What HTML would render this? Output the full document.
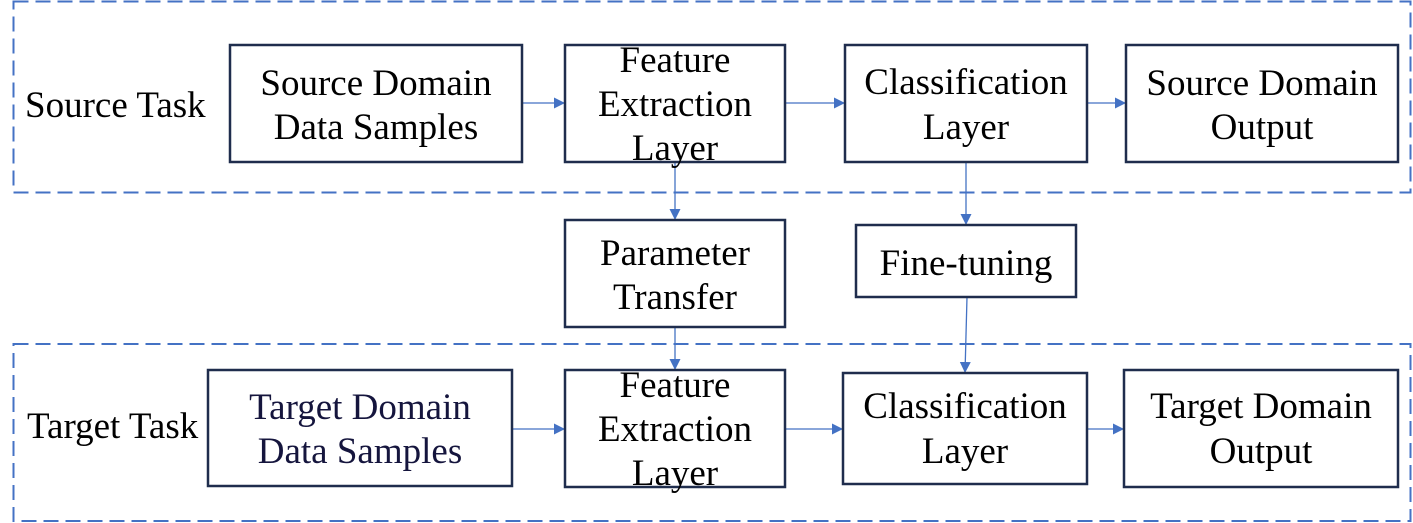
<!DOCTYPE html>
<html>
<head>
<meta charset="utf-8">
<style>
  html, body { margin:0; padding:0; background:#ffffff; }
  body { width:1413px; height:523px; overflow:hidden; }
  svg { display:block; }
  text { font-family: "Liberation Serif", "Times New Roman", serif; font-size:37px; fill:#000; }
</style>
</head>
<body>
<svg width="1413" height="523" viewBox="0 0 1413 523" xmlns="http://www.w3.org/2000/svg">
  <defs>
    <marker id="ah" markerUnits="userSpaceOnUse" markerWidth="12" markerHeight="12" viewBox="0 0 12 12" refX="11" refY="6" orient="auto">
      <path d="M0,0.5 L11,6 L0,11.5 z" fill="#4472c4"/>
    </marker>
  </defs>

  <!-- dashed group boxes -->
  <rect x="13.5" y="1.5" width="1397" height="191" fill="none" stroke="#4472c4" stroke-width="2" stroke-dasharray="15,7"/>
  <rect x="13.5" y="344" width="1397" height="177" fill="none" stroke="#4472c4" stroke-width="2" stroke-dasharray="15,7"/>

  <!-- connectors -->
  <g stroke="#4472c4" stroke-width="1.3" fill="none" marker-end="url(#ah)">
    <line x1="522" y1="103" x2="565" y2="103"/>
    <line x1="785" y1="103" x2="845" y2="103"/>
    <line x1="1087" y1="103" x2="1126" y2="103"/>
    <line x1="675" y1="162" x2="675" y2="220"/>
    <line x1="966" y1="162" x2="966" y2="225"/>
    <line x1="675" y1="327" x2="675" y2="370"/>
    <line x1="967" y1="297" x2="965" y2="373"/>
    <line x1="512" y1="429" x2="565" y2="429"/>
    <line x1="785" y1="429" x2="843" y2="429"/>
    <line x1="1087" y1="429" x2="1124" y2="429"/>
  </g>

  <!-- boxes -->
  <g fill="#ffffff" stroke="#1f2d4d" stroke-width="2.5">
    <rect x="230" y="45" width="292" height="117"/>
    <rect x="565" y="45" width="220" height="117"/>
    <rect x="845" y="45" width="242" height="117"/>
    <rect x="1126" y="45" width="272" height="117"/>
    <rect x="565" y="220" width="220" height="107"/>
    <rect x="856" y="225" width="220" height="72"/>
    <rect x="208" y="370" width="304" height="116"/>
    <rect x="565" y="370" width="220" height="117"/>
    <rect x="843" y="373" width="244" height="111"/>
    <rect x="1124" y="370" width="274" height="117"/>
  </g>

  <!-- side labels -->
  <text x="25" y="117">Source Task</text>
  <text x="27" y="438">Target Task</text>

  <!-- box texts -->
  <g text-anchor="middle">
    <text x="376" y="95">Source Domain</text>
    <text x="376" y="139">Data Samples</text>

    <text x="675" y="72">Feature</text>
    <text x="675" y="116">Extraction</text>
    <text x="675" y="160">Layer</text>

    <text x="966" y="94">Classification</text>
    <text x="966" y="139">Layer</text>

    <text x="1262" y="95">Source Domain</text>
    <text x="1262" y="139">Output</text>

    <text x="675" y="265">Parameter</text>
    <text x="675" y="309">Transfer</text>

    <text x="966" y="275">Fine-tuning</text>

    <text x="360" y="419" style="fill:#15153d">Target Domain</text>
    <text x="360" y="463" style="fill:#15153d">Data Samples</text>

    <text x="675" y="397">Feature</text>
    <text x="675" y="441">Extraction</text>
    <text x="675" y="485">Layer</text>

    <text x="965" y="418">Classification</text>
    <text x="965" y="463">Layer</text>

    <text x="1261" y="418">Target Domain</text>
    <text x="1261" y="463">Output</text>
  </g>
</svg>
</body>
</html>
